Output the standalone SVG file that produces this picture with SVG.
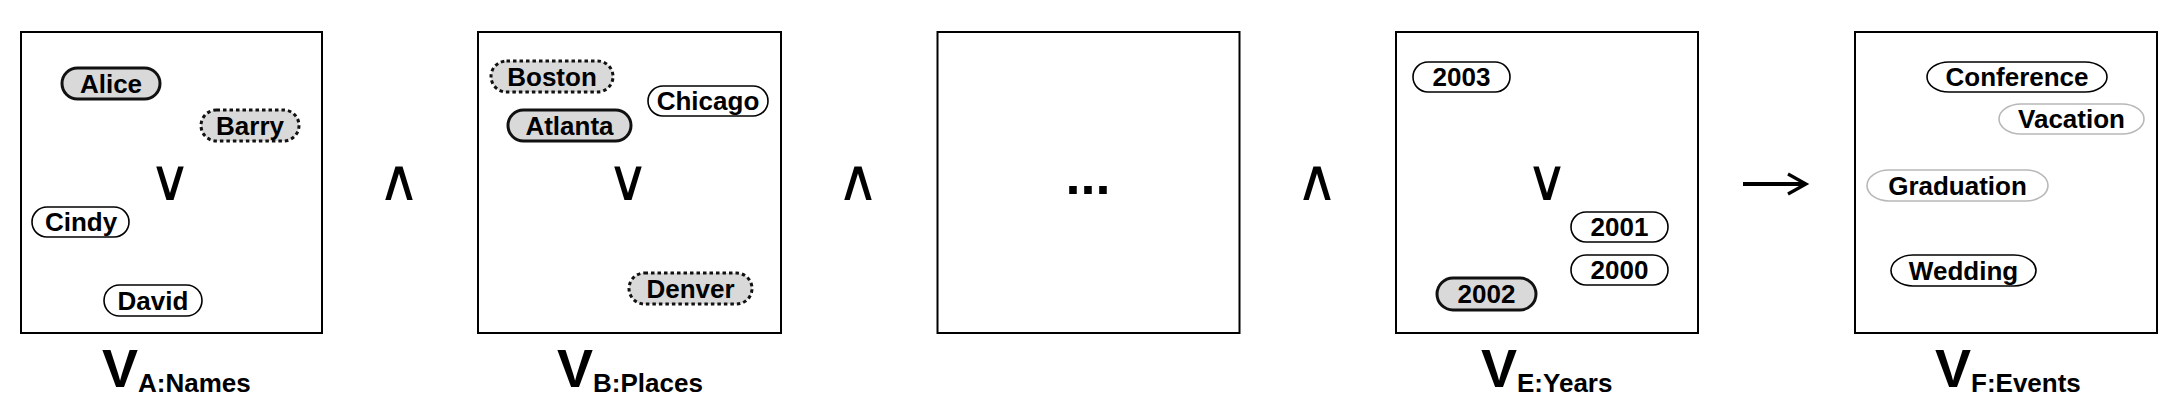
<svg xmlns="http://www.w3.org/2000/svg" width="2163" height="400" viewBox="0 0 2163 400">
<style>
.box{fill:#fff;stroke:#000;stroke-width:2}
.sel{fill:#d9d9d9;stroke:#111;stroke-width:3}
.dot{fill:#d9d9d9;stroke:#111;stroke-width:3;stroke-dasharray:3.5 3}
.plain{fill:#fff;stroke:#000;stroke-width:1.6}
.faint{fill:#fff;stroke:#b8b8b8;stroke-width:1.6}
.t{font-family:"Liberation Sans",Arial,Helvetica,sans-serif;font-weight:bold;font-size:26px;text-anchor:middle;fill:#000}
.op{font-family:"DejaVu Sans",sans-serif;font-size:58px;text-anchor:middle;fill:#000}
.big{font-family:"Liberation Sans",Arial,sans-serif;font-weight:bold;font-size:54px;fill:#000}
.sub{font-size:26px}
</style>
<defs>
<marker id="chev" viewBox="0 0 12 12" refX="10" refY="6" markerWidth="6" markerHeight="6" markerUnits="strokeWidth" orient="auto">
<polyline points="1,1 10,6 1,11" fill="none" stroke="#000" stroke-width="1.6"/>
</marker>
</defs>
<rect width="2163" height="400" fill="#fff"/>

<g id="panelA">
<rect class="box" x="21" y="32" width="301" height="301"/>
<g id="alice"><rect class="sel" x="62" y="68" width="98" height="31" rx="15.5"/><text class="t" x="111" y="93">Alice</text></g>
<g id="barry"><rect class="dot" x="201" y="110" width="98" height="31" rx="15.5"/><text class="t" x="250" y="135">Barry</text></g>
<g id="cindy"><rect class="plain" x="32" y="207" width="97" height="30" rx="15"/><text class="t" x="81" y="231">Cindy</text></g>
<g id="david"><rect class="plain" x="104" y="285" width="98" height="31" rx="15.5"/><text class="t" x="153" y="310">David</text></g>
<text class="op" x="170" y="200">∨</text>
<g id="labelA"><text class="big" x="102" y="387">V<tspan class="sub" dx="0" dy="5">A:Names</tspan></text></g>
</g>

<text class="op" x="399" y="200">∧</text>

<g id="panelB">
<rect class="box" x="478" y="32" width="303" height="301"/>
<g id="boston"><rect class="dot" x="491" y="61" width="122" height="31" rx="15.5"/><text class="t" x="552" y="86">Boston</text></g>
<g id="chicago"><rect class="plain" x="648" y="86" width="120" height="30" rx="15"/><text class="t" x="708" y="110">Chicago</text></g>
<g id="atlanta"><rect class="sel" x="508" y="110" width="123" height="31" rx="15.5"/><text class="t" x="569.5" y="135">Atlanta</text></g>
<g id="denver"><rect class="dot" x="629" y="273" width="123" height="31" rx="15.5"/><text class="t" x="690.5" y="298">Denver</text></g>
<text class="op" x="628" y="200">∨</text>
<g id="labelB"><text class="big" x="557" y="387">V<tspan class="sub" dx="0" dy="5">B:Places</tspan></text></g>
</g>

<text class="op" x="858" y="200">∧</text>

<g id="panelMid">
<rect class="box" x="937.5" y="32" width="302" height="301"/>
<text class="big" x="1088" y="194" text-anchor="middle">...</text>
</g>

<text class="op" x="1317" y="200">∧</text>

<g id="panelE">
<rect class="box" x="1396" y="32" width="302" height="301"/>
<g id="y2003"><rect class="plain" x="1413" y="62" width="97" height="30" rx="15"/><text class="t" x="1461.5" y="86">2003</text></g>
<g id="y2001"><rect class="plain" x="1571" y="212" width="97" height="30" rx="15"/><text class="t" x="1619.5" y="236">2001</text></g>
<g id="y2000"><rect class="plain" x="1571" y="255" width="97" height="30" rx="15"/><text class="t" x="1619.5" y="279">2000</text></g>
<g id="y2002"><rect class="sel" x="1437" y="278" width="99" height="32" rx="16"/><text class="t" x="1486.5" y="303" fill="#222">2002</text></g>
<text class="op" x="1547" y="200">∨</text>
<g id="labelE"><text class="big" x="1481" y="387">V<tspan class="sub" dx="0" dy="5">E:Years</tspan></text></g>
</g>

<g id="connectors">
<line x1="1743" y1="184" x2="1806" y2="184" stroke="#000" stroke-width="4" marker-end="url(#chev)"/>
</g>

<g id="panelF">
<rect class="box" x="1855" y="32" width="302" height="301"/>
<g id="conference"><rect class="plain" x="1927" y="62" width="180" height="30" rx="22" ry="15"/><text class="t" x="2017" y="86">Conference</text></g>
<g id="vacation"><rect class="faint" x="1999" y="104" width="145" height="30" rx="22" ry="15"/><text class="t" x="2071.5" y="128">Vacation</text></g>
<g id="graduation"><rect class="faint" x="1867" y="170" width="181" height="31" rx="22" ry="15.5"/><text class="t" x="1957.5" y="195">Graduation</text></g>
<g id="wedding"><rect class="plain" x="1891" y="255" width="145" height="31" rx="22" ry="15.5"/><text class="t" x="1963.5" y="280">Wedding</text></g>
<g id="labelF"><text class="big" x="1935" y="387">V<tspan class="sub" dx="0" dy="5">F:Events</tspan></text></g>
</g>
</svg>
